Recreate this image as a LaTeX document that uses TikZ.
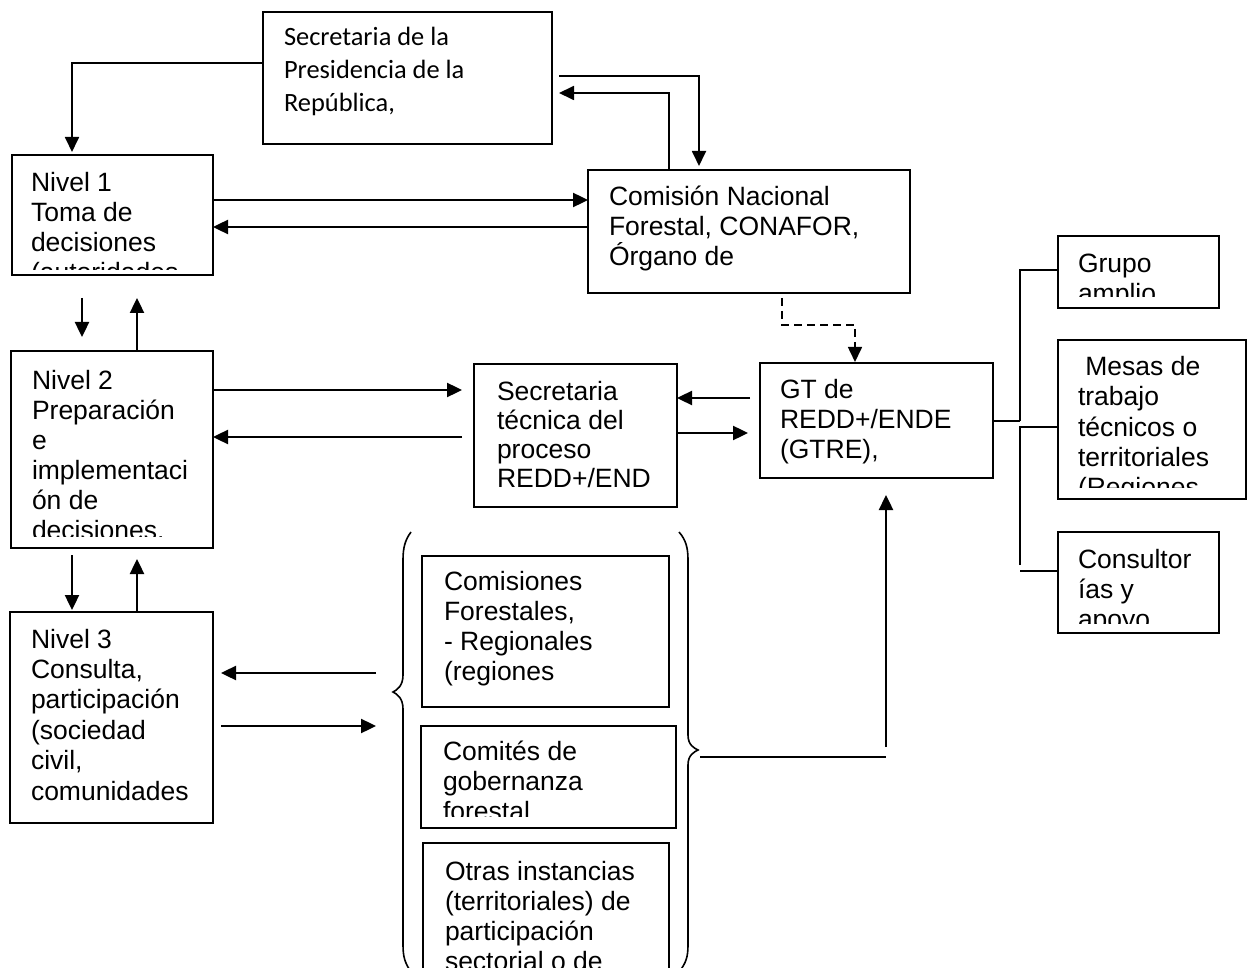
\documentclass[tikz,border=0pt]{standalone}
\usepackage{fontspec}
\setmainfont{Liberation Sans}
\newfontfamily\calib{Carlito}
\usetikzlibrary{arrows.meta,calc}
\newcommand{\mtext}[3]{\parbox[t]{400pt}{\fontsize{#1}{#2}\selectfont #3}}
\begin{document}
\begin{tikzpicture}[x=1pt,y=-1pt,
  box/.style={draw, line width=2pt, inner sep=0pt, outer sep=0pt, anchor=north west},
  txt/.style={inner sep=0pt, outer sep=0pt, anchor=base west},
  arr/.style={line width=2.4pt, -{Triangle[length=15pt,width=14pt]}},
  tarr/.style={line width=1.8pt, -{Triangle[length=15pt,width=14pt]}},
  thinl/.style={line width=1.6pt},
  dasharr/.style={line width=1.6pt, dash pattern=on 8pt off 5pt, -{Triangle[length=15pt,width=14pt]}}]
\clip (0,0) rectangle (1248,968);
\fill[white] (0,0) rectangle (1248,968);
% boxes
\node[box, minimum width=289, minimum height=132] (pres) at (263,12) {};
\node[box, minimum width=201, minimum height=120] (n1) at (12,155) {};
\node[box, minimum width=322, minimum height=123] (conafor) at (588,170) {};
\node[box, minimum width=202, minimum height=197] (n2) at (11,351) {};
\node[box, minimum width=203, minimum height=143] (st) at (474,364) {};
\node[box, minimum width=233, minimum height=115] (gt) at (760,363) {};
\node[box, minimum width=203, minimum height=211] (n3) at (10,612) {};
\node[box, minimum width=247, minimum height=151] (com) at (422,556) {};
\node[box, minimum width=255, minimum height=102] (cg) at (421,726) {};
\node[box, minimum width=246, minimum height=160] (otras) at (423,843) {};
\node[box, minimum width=161, minimum height=72] (grupo) at (1058,236) {};
\node[box, minimum width=188, minimum height=159] (mesas) at (1058,340) {};
\node[box, minimum width=161, minimum height=101] (cons) at (1058,532) {};
% texts
\node[txt] (prest) at (284,46) {\calib\mtext{26.4}{33}{Secretaria de la\\Presidencia de la\\República,}};
\begin{scope}
\clip (12,155) rectangle (213,270);
\node[txt] (n1t) at (31,192) {\mtext{26.5}{30}{Nivel 1\\Toma de\\decisiones\\(autoridades}};
\end{scope}
\node[txt] (conaft) at (609,206) {\mtext{26.5}{30}{Comisión Nacional\\Forestal, CONAFOR,\\Órgano de}};
\begin{scope}
\clip (11,351) rectangle (213,536);
\node[txt] (n2t) at (32,389) {\mtext{26.5}{30}{Nivel 2\\Preparación\\e\\implementaci\\ón de\\decisiones.}};
\end{scope}
\node[txt] (stt) at (497,400) {\mtext{26.5}{29.3}{Secretaria\\técnica del\\proceso\\REDD+/END}};
\node[txt] (gtt) at (780,398) {\mtext{26.5}{30}{GT de\\REDD+/ENDE\\(GTRE),}};
\node[txt] (n3t) at (31,648) {\mtext{26.5}{30.4}{Nivel 3\\Consulta,\\participación\\(sociedad\\civil,\\comunidades}};
\node[txt] (comt) at (444,590) {\mtext{26.5}{30}{Comisiones\\Forestales,\\- Regionales\\(regiones}};
\begin{scope}
\clip (421,726) rectangle (676,816);
\node[txt] (cgt) at (443,760) {\mtext{26.5}{30}{Comités de\\gobernanza\\forestal}};
\end{scope}
\node[txt] (otrast) at (445,880) {\mtext{26.5}{30}{Otras instancias\\(territoriales) de\\participación\\sectorial o de}};
\begin{scope}
\clip (1058,236) rectangle (1219,297);
\node[txt] (grupot) at (1078,273) {\mtext{26.5}{30}{Grupo\\amplio}};
\end{scope}
\begin{scope}
\clip (1058,340) rectangle (1246,487);
\node[txt] (mesast) at (1078,375) {\mtext{26.5}{30.5}{\hspace*{7.4pt}Mesas de\\trabajo\\técnicos o\\territoriales\\(Regiones}};
\end{scope}
\begin{scope}
\clip (1058,532) rectangle (1219,623);
\node[txt] (const) at (1078,568) {\mtext{26.5}{30}{Consultor\\ías y\\apoyo}};
\end{scope}
% braces
\coordinate (lb) at (393,692);
\coordinate (rb) at (698,750);
\draw[thinl] (411,532) .. controls (405,540) and (403,548) .. (403,560) -- (403,675)
  .. controls (403,686) and (397,690) .. (lb) .. controls (397,694) and (403,698) .. (403,709)
  -- (403,945) .. controls (403,957) and (405,963) .. (411,972);
\draw[thinl] (679,532) .. controls (686,540) and (688,548) .. (688,560) -- (688,735)
  .. controls (688,745) and (694,748) .. (rb) .. controls (694,752) and (688,755) .. (688,765)
  -- (688,945) .. controls (688,957) and (686,963) .. (679,972);
% connectors: presidencia
\draw[tarr] (pres.west |- 0,63) -| ($(n1.north -| 72,0)+(0,-3)$);
\draw[tarr] (conafor.north -| 669,0) |- ($(pres.east |- 0,93)+(7,0)$);
\draw[tarr] ($(pres.east |- 0,76)+(7,0)$) -| ($(conafor.north -| 699,0)+(0,-4)$);
% nivel 1 <-> conafor
\draw[arr] (n1.east |- 0,200) -- (conafor.west |- 0,200);
\draw[arr] (conafor.west |- 0,227) -- (n1.east |- 0,227);
% nivel 1 <-> nivel 2
\draw[arr] ($(n1.south -| 82,0)+(0,23)$) -- ($(n2.north -| 82,0)+(0,-14)$);
\draw[arr] (n2.north -| 137,0) -- ($(n1.south -| 137,0)+(0,23)$);
% nivel 2 <-> secretaria tecnica
\draw[arr] (n2.east |- 0,390) -- ($(st.west |- 0,390)+(-12,0)$);
\draw[arr] ($(st.west |- 0,437)+(-12,0)$) -- (n2.east |- 0,437);
% nivel 2 <-> nivel 3
\draw[arr] ($(n2.south -| 72,0)+(0,7)$) -- ($(n3.north -| 72,0)+(0,-2)$);
\draw[arr] (n3.north -| 137,0) -- ($(n2.south -| 137,0)+(0,11)$);
% nivel 3 <-> brace
\draw[arr] ($(lb |- 0,673)+(-17,0)$) -- ($(n3.east |- 0,673)+(8,0)$);
\draw[arr] ($(n3.east |- 0,726)+(8,0)$) -- ($(lb |- 0,726)+(-17,0)$);
% secretaria tecnica <-> GT
\draw[arr] ($(gt.west |- 0,398)+(-10,0)$) -- (st.east |- 0,398);
\draw[arr] (st.east |- 0,433) -- ($(gt.west |- 0,433)+(-12,0)$);
% conafor -> GT dashed
\draw[dasharr] ($(conafor.south -| 782,0)+(0,5)$) |- (820,325) -| ($(gt.north -| 855,0)+(0,-1)$);
% brace -> GT
\draw[thinl] ($(rb)+(2,7)$) -- (886,757);
\draw[arr] (886,747) -- ($(gt.south -| 886,0)+(0,17)$);
% bus to right boxes
\draw[thinl] (gt.east |- 0,421) -- (1020,421);
\draw[thinl] (1020,421) |- (grupo.west |- 0,270);
\draw[thinl] (1020,565) |- (mesas.west |- 0,427);
\draw[thinl] (1020,571) -- (cons.west |- 0,571);
\end{tikzpicture}
\end{document}
